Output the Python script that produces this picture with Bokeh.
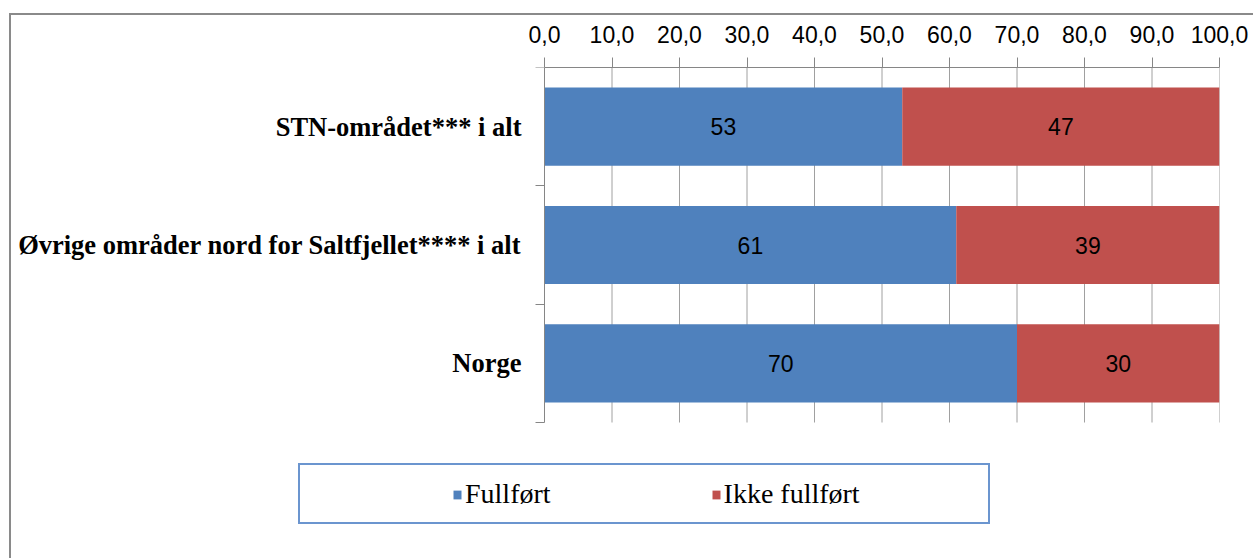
from bokeh.plotting import figure
from bokeh.models import Range1d, FixedTicker, ColumnDataSource, Legend, LegendItem
from bokeh.core.properties import value
from bokeh.embed import file_html
from bokeh.resources import INLINE

categories = ["STN-området*** i alt",
              "Øvrige områder nord for Saltfjellet**** i alt",
              "Norge"]
fullfort = [53, 61, 70]
ikke_fullfort = [47, 39, 30]
x_ticks = [0, 10, 20, 30, 40, 50, 60, 70, 80, 90, 100]
x_tick_labels = ["0,0", "10,0", "20,0", "30,0", "40,0", "50,0",
                 "60,0", "70,0", "80,0", "90,0", "100,0"]
series_names = ["Fullført", "Ikke fullført"]

BLUE = "#4F81BD"
RED = "#C0504D"
GREY = "#868686"

n = len(categories)
ypos = [n - i - 0.5 for i in range(n)]
ends = [a + b for a, b in zip(fullfort, ikke_fullfort)]

src = ColumnDataSource(dict(
    y=ypos, full=fullfort, ikke=ikke_fullfort, end=ends,
    full_mid=[f / 2 for f in fullfort],
    ikke_mid=[f + k / 2 for f, k in zip(fullfort, ikke_fullfort)],
    full_txt=[str(v) for v in fullfort],
    ikke_txt=[str(v) for v in ikke_fullfort],
))

# layout geometry (pixels): plot frame spans the label and legend areas too
W, H = 1253, 558
FR_LEFT, FR_RIGHT, FR_TOP, FR_BOTTOM = 0, 1219, 67, 545
X0_PX, Y0_PX = 544, 422            # where value 0 / category base lies
px_per_x = (FR_RIGHT - X0_PX) / 100.0
px_per_y = (Y0_PX - FR_TOP) / n
x_start = -(X0_PX - FR_LEFT) / px_per_x
y_start = -(FR_BOTTOM - Y0_PX) / px_per_y

p = figure(width=W, height=H, x_range=Range1d(x_start, 100), y_range=Range1d(y_start, n),
           x_axis_location="above", output_backend="svg", toolbar_location=None,
           min_border_left=FR_LEFT, min_border_right=W - FR_RIGHT,
           min_border_top=FR_TOP, min_border_bottom=H - FR_BOTTOM)
p.outline_line_color = None
p.background_fill_color = None
p.border_fill_color = None

# chart border and legend box drawn as host background
def bar(color, x, y, w, h):
    return f"linear-gradient({color},{color}) {x}px {y}px / {w}px {h}px no-repeat"

OUT = "#8a8a8a"
LEG = "#6b95cf"
layers = [
    bar(OUT, 9, 13, 2, 2000),
    bar(OUT, 9, 13, 3000, 2),
    bar(LEG, 298, 463, 692, 2),
    bar(LEG, 298, 522, 692, 2),
    bar(LEG, 298, 463, 2, 61),
    bar(LEG, 988, 463, 2, 61),
]
p.styles = {"background": ", ".join(layers) + ", #ffffff"}

# x axis (top)
xt = FixedTicker(ticks=x_ticks, minor_ticks=[])
p.xaxis.ticker = xt
p.xaxis.bounds = (0, 100)
p.xaxis.major_label_overrides = {t: l for t, l in zip(x_ticks, x_tick_labels)}
p.xaxis.major_label_text_font = "Liberation Sans"
p.xaxis.major_label_text_font_size = "23px"
p.xaxis.major_label_text_color = "#000000"
p.xaxis.axis_line_color = GREY
p.xaxis.major_tick_line_color = GREY
p.xaxis.major_tick_out = 10
p.xaxis.major_tick_in = 0
p.xaxis.minor_tick_line_color = None
p.xaxis.major_label_standoff = 15

# y axis (left, fixed at value 0)
yt = FixedTicker(ticks=ypos, minor_ticks=[float(i) for i in range(n + 1)])
p.yaxis.ticker = yt
p.yaxis.fixed_location = 0
p.yaxis.bounds = (0, n)
p.yaxis.major_label_overrides = {y: c for y, c in zip(ypos, categories)}
p.yaxis.major_label_text_font = "Liberation Serif"
p.yaxis.major_label_text_font_style = "bold"
p.yaxis.major_label_text_font_size = "26.5px"
p.yaxis.major_label_text_color = "#000000"
p.yaxis.axis_line_color = GREY
p.yaxis.major_tick_line_color = None
p.yaxis.major_tick_out = 0
p.yaxis.major_tick_in = 0
p.yaxis.minor_tick_line_color = GREY
p.yaxis.minor_tick_out = 9
p.yaxis.minor_tick_in = 0
p.yaxis.major_label_standoff = 14

p.xgrid.grid_line_color = None
p.ygrid.grid_line_color = None

# vertical grid lines over the bar area only
p.segment(x0=x_ticks[1:], y0=0, x1=x_ticks[1:], y1=n, line_color="#a0a0a0", line_width=1)

r1 = p.hbar(y="y", left=0, right="full", height=0.66, source=src,
            fill_color=BLUE, line_color=None)
r2 = p.hbar(y="y", left="full", right="end", height=0.66, source=src,
            fill_color=RED, line_color=None)

for col, txt in (("full_mid", "full_txt"), ("ikke_mid", "ikke_txt")):
    p.text(x=col, y="y", text=txt, source=src, text_align="center",
           text_baseline="middle", text_font=value("Liberation Sans"),
           text_font_size="23px", text_color="#000000")

legend = Legend(items=[LegendItem(label=series_names[0], renderers=[r1]),
                       LegendItem(label=series_names[1], renderers=[r2])],
                orientation="horizontal", location=(452 - FR_LEFT, FR_BOTTOM - 510),
                padding=0, margin=0, spacing=160,
                glyph_width=10, glyph_height=11, label_standoff=3,
                label_text_font="Times New Roman", label_text_font_style="normal",
                label_text_font_size="28px",
                label_text_color="#000000",
                border_line_alpha=0, background_fill_alpha=0)
p.add_layout(legend, "center")

open("out.html", "w").write(file_html(p, INLINE))
